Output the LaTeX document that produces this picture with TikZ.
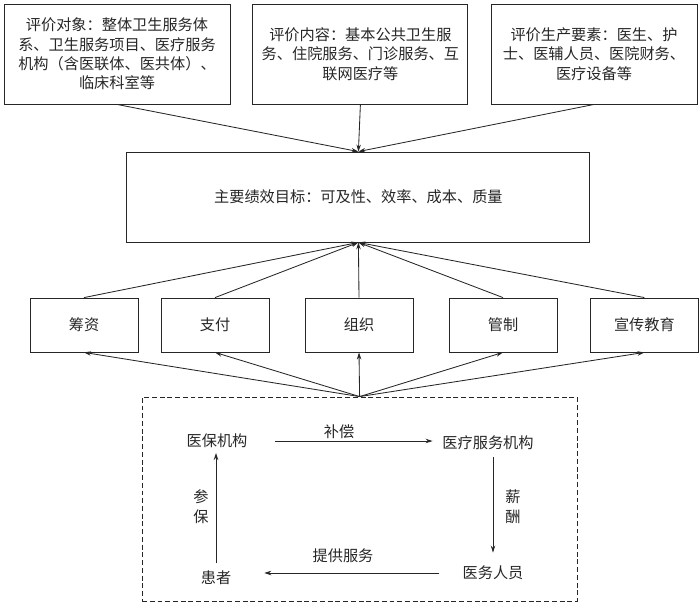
\documentclass[tikz,border=0pt]{standalone}
\usepackage{fontspec}
\setmainfont{Noto Sans CJK SC}
\usetikzlibrary{arrows.meta}

\begin{document}
\begin{tikzpicture}[
  every node/.style={font=\fontsize{10.8pt}{13.8pt}\selectfont, align=center, text=black!85},
  box/.style={draw=black!85, line width=0.6pt, inner sep=3pt},
  line/.style={draw=black!85, line width=0.6pt, -{Stealth[length=5pt,width=3.2pt]}}
]
\useasboundingbox (0,0) rectangle (17.5,-15.175);

% Top nodes
\node[box, minimum width=5.65cm, minimum height=2.5cm] (obj) at (2.925, -1.35) {评价对象：整体卫生服务体\\系、卫生服务项目、医疗服务\\机构（含医联体、医共体）、\\临床科室等};
\node[box, minimum width=5.375cm, minimum height=2.5cm] (cont) at (9.01, -1.35) {评价内容：基本公共卫生服\\务、住院服务、门诊服务、互\\联网医疗等};
\node[box, minimum width=5.15cm, minimum height=2.5cm] (fact) at (14.85, -1.35) {评价生产要素：医生、护\\士、医辅人员、医院财务、\\医疗设备等};

% Goal node
\node[box, minimum width=11.575cm, minimum height=2.25cm] (goal) at (8.96, -4.925) {主要绩效目标：可及性、效率、成本、质量};

% Middle nodes
\node[box, minimum width=2.7cm, minimum height=1.35cm] (fin) at (2.1, -8.125) {筹资};
\node[box, minimum width=2.7cm, minimum height=1.35cm] (pay) at (5.375, -8.125) {支付};
\node[box, minimum width=2.7cm, minimum height=1.35cm] (org) at (8.975, -8.125) {组织};
\node[box, minimum width=2.7cm, minimum height=1.35cm] (reg) at (12.575, -8.125) {管制};
\node[box, minimum width=2.7cm, minimum height=1.35cm] (edu) at (16.11, -8.125) {宣传教育};

% Dashed system box
\node[box, dash pattern=on 3.5pt off 2pt, minimum width=10.875cm, minimum height=5.1cm] (sys) at (8.99, -12.475) {};

% Nodes inside the system box
\node (ins) at (5.425, -11.025) {医保机构};
\node (hosp) at (12.2, -11.075) {医疗服务机构};
\node (pat) at (5.4, -14.45) {患者};
\node (staff) at (12.325, -14.325) {医务人员};

% Labels
\node (lcomp) at (8.475, -10.8) {补偿};
\node (lserv) at (8.575, -13.9) {提供服务};
\node[font=\fontsize{10.8pt}{14.2pt}\selectfont] (lins) at (5.025, -12.675) {参\\保};
\node[font=\fontsize{10.8pt}{14.2pt}\selectfont] (lpay) at (12.825, -12.675) {薪\\酬};

% Lines from top nodes to goal
\draw[line] (obj.south) -- (goal.north);
\draw[line] (cont.south) -- (goal.north);
\draw[line] (fact.south) -- (goal.north);

% Lines from middle nodes to goal
\foreach \n in {fin, pay, org, reg, edu}
  \draw[line] (\n.north) -- (goal.south);

% Lines from system box to middle nodes
\foreach \n in {fin, pay, org, reg, edu}
  \draw[line] (sys.north) -- (\n.south);

% Lines inside the system box
\draw[line, shorten <=16pt, shorten >=3.5pt] (ins.east) -- (ins.east -| hosp.west);
\draw[line, shorten <=1.5pt, shorten >=6pt] (staff.north |- hosp.south) -- (staff.north);
\draw[line, shorten <=13pt, shorten >=20pt] (staff.west) -- (staff.west -| pat.east);
\draw[line, shorten <=2pt] (pat.north) -- (pat.north |- ins.south);

\end{tikzpicture}
\end{document}
